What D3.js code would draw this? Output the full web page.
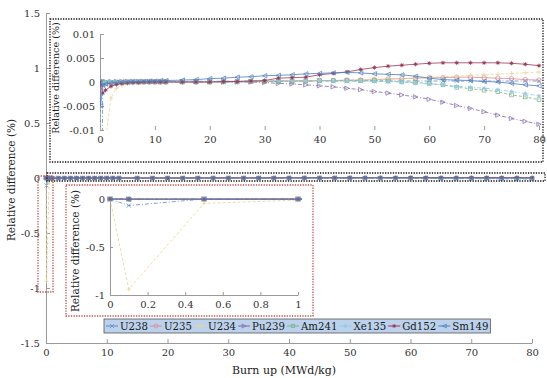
<!DOCTYPE html>
<html>
<head>
<meta charset="utf-8">
<script src="https://cdn.jsdelivr.net/npm/d3@7/dist/d3.min.js"></script>
<style>
  body { margin: 0; background: #fff; }
  svg { display: block; }
  .axis path, .axis line { stroke: #9a9a9a; }
</style>
</head>
<body>
<svg id="chart" width="547" height="378"></svg>
<script>
// burn up steps (MWd/kg)
const burnup = [0, 0.1, 0.5, 1, 2, 3, 4, 5, 6, 7, 8, 9, 10, 11, 12, 15, 17.5, 20, 22.5, 25, 27.5, 30,
  32.5, 35, 37.5, 40, 42.5, 45, 47.5, 50, 52.5, 55, 57.5, 60, 62.5, 65, 67.5, 70, 72.5, 75, 77.5, 80];

// relative difference (%) per nuclide
const u238 = [0, -0.068, -0.0006, -0.0004, -0.0003, -0.0002, -0.0001, 0, 0, 0, 0.0001, 0.0001, 0.0001, 0.0001,
  0.0001, 0.0001, 0.0001, 0.0001, 0.0001, 0.0002, 0.0002, 0.0002, 0.0002, 0.0002, 0.0002, 0.0002, 0.0002, 0.0002,
  0.0002, 0.0002, 0.0002, 0.0002, 0.0002, 0.0002, 0.0002, 0.0002, 0.0002, 0.0002, 0.0002, 0.0002, 0.0002, 0.0002];
const u235 = [0, -0.0003, -0.0004, -0.0003, -0.0002, -0.0001, -0.0001, 0, 0, 0, 0, 0, 0, 0,
  0, 0, 0, 0, 0.0001, 0.0001, 0.0001, 0.0001, 0.0002, 0.0002, 0.0002, 0.0003, 0.0003, 0.0004,
  0.0004, 0.0005, 0.0006, 0.0007, 0.0008, 0.0009, 0.0009, 0.001, 0.001, 0.0009, 0.0008, 0.0007, 0.0005, 0.0004];
const u234 = [0, -0.94, -0.045, -0.012, -0.0033, -0.0013, -0.0007, -0.0004, -0.0003, -0.0002, -0.0002, -0.0001, -0.0001, 0,
  0, 0, 0, 0, 0, 0, 0, 0, 0.0001, 0.0001, 0.0001, 0.0002, 0.0002, 0.0003,
  0.0004, 0.0005, 0.0006, 0.0007, 0.0008, 0.001, 0.0011, 0.0012, 0.0014, 0.0015, 0.0016, 0.0018, 0.0019, 0.0021];
const pu239 = [0, 0, 0.0001, 0.0001, 0.0001, 0.0001, 0.0001, 0.0001, 0.0001, 0.0001, 0.0001, 0.0001, 0.0001, 0.0001,
  0.0001, 0.0001, 0.0001, 0.0001, 0, 0, 0, -0.0001, -0.0003, -0.0004, -0.0006, -0.0008, -0.001, -0.0013,
  -0.0016, -0.002, -0.0023, -0.0027, -0.0031, -0.0036, -0.0042, -0.0049, -0.0055, -0.0062, -0.0069, -0.0076, -0.0082, -0.0088];
const am241 = [0, 0, -0.0001, -0.0001, -0.0001, 0, 0, 0, 0, 0, 0, 0, 0, 0,
  0, 0, 0, 0, 0, 0, 0.0001, 0.0001, 0.0001, 0.0002, 0.0002, 0.0003, 0.0003, 0.0003,
  0.0003, 0.0003, 0.0002, 0, -0.0001, -0.0003, -0.0006, -0.0011, -0.0014, -0.0017, -0.002, -0.0027, -0.0031, -0.0037];
const xe135 = [0, -0.0002, -0.0001, -0.0001, 0, 0, 0, 0, 0, 0.0001, 0.0001, 0.0001, 0.0001, 0.0001,
  0.0001, 0.0001, 0.0002, 0.0002, 0.0002, 0.0002, 0.0002, 0.0003, 0.0003, 0.0003, 0.0003, 0.0003, 0.0002, 0.0002,
  0.0002, 0.0001, 0.0001, 0, -0.0003, -0.0004, -0.0006, -0.0009, -0.0011, -0.0013, -0.0016, -0.002, -0.0024, -0.0029];
const gd152 = [0, -0.0006, -0.0023, -0.0017, -0.0009, -0.0005, -0.0003, -0.0002, -0.0001, -0.0001, 0, 0, 0, 0,
  0, 0, 0, 0, 0.0001, 0.0001, 0.0002, 0.0003, 0.0008, 0.0009, 0.001, 0.0015, 0.0018, 0.0021,
  0.0026, 0.003, 0.0033, 0.0035, 0.0037, 0.0039, 0.004, 0.004, 0.004, 0.004, 0.004, 0.0039, 0.0037, 0.0034];
const sm149 = [0, -0.005, -0.0007, -0.0004, -0.0002, -0.0001, 0, 0, 0.0001, 0.0001, 0.0001, 0.0002, 0.0002, 0.0003,
  0.0003, 0.0004, 0.0005, 0.0007, 0.0008, 0.001, 0.0011, 0.0013, 0.0014, 0.0015, 0.0017, 0.0018, 0.0019, 0.002,
  0.0019, 0.0017, 0.0016, 0.0015, 0.0012, 0.0008, 0.0005, 0.0004, 0.0003, 0.0001, 0, -0.0003, -0.0006, -0.0008];

const seriesNames = ['U238', 'U235', 'U234', 'Pu239', 'Am241', 'Xe135', 'Gd152', 'Sm149'];
const seriesValues = [u238, u235, u234, pu239, am241, xe135, gd152, sm149];
const seriesColors = ['#5b8cc0', '#d98a97', '#e6d494', '#8469ad', '#78b488', '#8fcbe4', '#9a3a58', '#4f7fbd'];
const seriesMarkers = ['x', 'o', '+', '>', 's', '*', '*', '<'];
const seriesDash = ['4,2,1,2', null, '3,2', '4,2,1,2', '3,2', '4,2,1,2', null, null];

const mainXTicks = [0, 10, 20, 30, 40, 50, 60, 70, 80];
const mainYTicks = [-1.5, -1, -0.5, 0, 0.5, 1, 1.5];
const topYTicks = [-0.01, -0.005, 0, 0.005, 0.01];
const lowXTicks = [0, 0.2, 0.4, 0.6, 0.8, 1];
const lowYTicks = [-1, -0.5, 0];

// Liberation Serif falls back to a sans face here, DejaVu Serif is the serif that resolves
const serif = 'DejaVu Serif';

const svg = d3.select('#chart').attr('font-family', serif);

const series = seriesNames.map((name, i) => ({
  name,
  color: seriesColors[i],
  marker: seriesMarkers[i],
  dash: seriesDash[i],
  points: burnup.map((b, j) => ({ x: b, y: seriesValues[i][j] }))
}));

function drawMarker(g, type, cx, cy, color, r) {
  const m = g.append('g').attr('transform', `translate(${cx},${cy})`)
    .attr('stroke', color).attr('fill', 'none').attr('stroke-width', 0.7);
  if (type === 'x') {
    m.append('path').attr('d', `M${-r},${-r}L${r},${r}M${-r},${r}L${r},${-r}`);
  } else if (type === 'o') {
    m.append('circle').attr('r', r);
  } else if (type === '+') {
    m.append('path').attr('d', `M${-r},0L${r},0M0,${-r}L0,${r}`);
  } else if (type === 's') {
    m.append('rect').attr('x', -r * 0.85).attr('y', -r * 0.85).attr('width', r * 1.7).attr('height', r * 1.7);
  } else if (type === '>') {
    m.append('path').attr('d', `M${r},0L${-r},${-r}L${-r},${r}Z`);
  } else if (type === '<') {
    m.append('path').attr('d', `M${-r},0L${r},${-r}L${r},${r}Z`);
  } else if (type === '*') {
    m.append('path').attr('d', `M${-r},0L${r},0M0,${-r}L0,${r}M${-r * 0.7},${-r * 0.7}L${r * 0.7},${r * 0.7}M${-r * 0.7},${r * 0.7}L${r * 0.7},${-r * 0.7}`);
    m.append('circle').attr('r', r * 0.4).attr('fill', color);
  }
}

function plotSeries(g, x, y, clipId, r) {
  const inner = g.append('g').attr('clip-path', `url(#${clipId})`);
  const line = d3.line().x(d => x(d.x)).y(d => y(d.y));
  series.forEach(s => {
    inner.append('path')
      .datum(s.points)
      .attr('d', line)
      .attr('fill', 'none')
      .attr('stroke', s.color)
      .attr('stroke-width', 0.8)
      .attr('stroke-dasharray', s.dash);
    s.points.forEach(p => {
      const px = x(p.x);
      if (px < x.range()[0] - 5 || px > x.range()[1] + 5) return;
      drawMarker(inner, s.marker, px, y(p.y), s.color, r);
    });
  });
}

function addClip(id, x0, y0, x1, y1) {
  svg.append('clipPath').attr('id', id)
    .append('rect').attr('x', x0).attr('y', y0).attr('width', x1 - x0).attr('height', y1 - y0);
}

function styleAxis(g) {
  g.attr('class', 'axis').attr('font-family', serif).attr('font-size', 10);
  g.selectAll('text').attr('fill', '#333');
}

function yLabel(cx, cy, size) {
  svg.append('text')
    .attr('transform', `translate(${cx},${cy}) rotate(-90)`)
    .attr('text-anchor', 'middle')
    .attr('font-family', serif)
    .attr('font-size', size)
    .attr('fill', '#222')
    .text('Relative difference (%)');
}

// ---- main axes ----
const x = d3.scaleLinear().domain([0, 80]).range([46, 532]);
const y = d3.scaleLinear().domain([-1.5, 1.5]).range([343, 13]);

svg.append('g').attr('transform', 'translate(0,343)')
  .call(d3.axisBottom(x).tickValues(mainXTicks).tickFormat(d3.format('d')).tickSizeInner(-4).tickSizeOuter(0).tickPadding(6))
  .call(styleAxis);
svg.append('g').attr('transform', 'translate(46,0)')
  .call(d3.axisLeft(y).tickValues(mainYTicks).tickFormat(d => String(d)).tickSizeInner(-4).tickSizeOuter(0).tickPadding(6))
  .call(styleAxis);

addClip('clipMain', 40, 8, 540, 348);
plotSeries(svg.append('g'), x, y, 'clipMain', 2);

yLabel(15, 180, 10.5);
svg.append('text').attr('x', 284).attr('y', 374).attr('text-anchor', 'middle')
  .attr('font-family', serif).attr('font-size', 11).attr('fill', '#222').text('Burn up (MWd/kg)');

// ---- zoom boxes on the main axes ----
svg.append('rect').attr('x', 47).attr('y', 173).attr('width', 498).attr('height', 8)
  .attr('fill', 'none').attr('stroke', '#111').attr('stroke-width', 1.3).attr('stroke-dasharray', '1.3,1.3');
svg.append('rect').attr('x', 38).attr('y', 176).attr('width', 15).attr('height', 116)
  .attr('fill', 'none').attr('stroke', '#c0504d').attr('stroke-width', 1.3).attr('stroke-dasharray', '1.3,1.3');

// ---- top inset ----
svg.append('rect').attr('x', 50).attr('y', 19).attr('width', 493).attr('height', 143)
  .attr('fill', '#fff').attr('stroke', '#111').attr('stroke-width', 1.3).attr('stroke-dasharray', '1.3,1.3');
const xt = d3.scaleLinear().domain([0, 80]).range([100, 539]);
const yt = d3.scaleLinear().domain([-0.01, 0.01]).range([130, 34]);

svg.append('g').attr('transform', 'translate(0,130)')
  .call(d3.axisBottom(xt).tickValues(mainXTicks).tickFormat(d3.format('d')).tickSizeInner(-4).tickSizeOuter(0).tickPadding(6))
  .call(styleAxis)
  .call(g => g.select('.domain').remove());
svg.append('g').attr('transform', 'translate(100,0)')
  .call(d3.axisLeft(yt).tickValues(topYTicks).tickFormat(d => String(d)).tickSizeInner(-4).tickSizeOuter(0).tickPadding(5))
  .call(styleAxis);

addClip('clipTop', 100, 34, 545, 130);
plotSeries(svg.append('g'), xt, yt, 'clipTop', 2.2);
yLabel(59, 78, 9.6);

// ---- lower inset ----
svg.append('rect').attr('x', 66).attr('y', 185).attr('width', 247).attr('height', 131)
  .attr('fill', '#fff').attr('stroke', '#c0504d').attr('stroke-width', 1.3).attr('stroke-dasharray', '1.3,1.3');
const xl = d3.scaleLinear().domain([0, 1]).range([110, 298]);
const yl = d3.scaleLinear().domain([-1, 0]).range([295, 199]);

svg.append('g').attr('transform', 'translate(0,295)')
  .call(d3.axisBottom(xl).tickValues(lowXTicks).tickFormat(d => String(d)).tickSizeInner(-3).tickSizeOuter(0).tickPadding(6))
  .call(styleAxis);
svg.append('g').attr('transform', 'translate(110,0)')
  .call(d3.axisLeft(yl).tickValues(lowYTicks).tickFormat(d => String(d)).tickSizeInner(-3).tickSizeOuter(0).tickPadding(5))
  .call(styleAxis);

addClip('clipLow', 106, 194, 302, 299);
plotSeries(svg.append('g'), xl, yl, 'clipLow', 2.2);
yLabel(79, 251, 10.5);

// ---- legend ----
const legend = svg.append('g');
const legendBox = legend.append('rect').attr('x', 104).attr('y', 319).attr('height', 14)
  .attr('fill', '#bcd2ec').attr('stroke', '#555').attr('stroke-width', 0.8);
let lx = 106;
series.forEach(s => {
  legend.append('line').attr('x1', lx).attr('x2', lx + 12).attr('y1', 326).attr('y2', 326)
    .attr('stroke', s.color).attr('stroke-width', 1);
  drawMarker(legend, s.marker, lx + 6, 326, s.color, 2);
  const t = legend.append('text').attr('x', lx + 14).attr('y', 330)
    .attr('font-family', serif).attr('font-size', 10.2).attr('fill', '#1a1a1a').text(s.name);
  lx = lx + 14 + t.node().getComputedTextLength() + 2;
});
legendBox.attr('width', lx - 104);
</script>
</body>
</html>
